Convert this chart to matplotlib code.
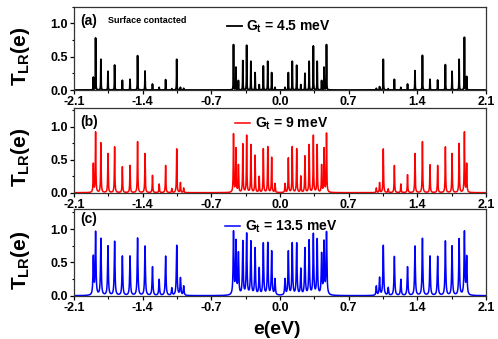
import numpy as np
import matplotlib
matplotlib.use('Agg')
import matplotlib.pyplot as plt
from matplotlib.ticker import MultipleLocator

plt.rcParams['font.family'] = ['Liberation Sans', 'DejaVu Sans']
plt.rcParams['font.weight'] = 'bold'
plt.rcParams['mathtext.fontset'] = 'custom'
plt.rcParams['mathtext.rm'] = 'Liberation Sans:bold'
plt.rcParams['mathtext.it'] = 'Liberation Sans:bold'
plt.rcParams['mathtext.bf'] = 'Liberation Sans:bold'

# resonance energies (eV), same for all couplings
peak_e = [-1.903, -1.880, -1.826, -1.754, -1.686, -1.607, -1.529, -1.452,
          -1.376, -1.300, -1.232, -1.166, -1.103, -1.053, -1.015, -0.982,
          -0.474, -0.449, -0.424, -0.379, -0.340, -0.297, -0.254, -0.212,
          -0.170, -0.125, -0.085, -0.051,
          0.051, 0.085, 0.125, 0.170, 0.212, 0.254, 0.297, 0.340,
          0.379, 0.424, 0.449, 0.474,
          0.982, 1.015, 1.053, 1.103, 1.166, 1.232, 1.300, 1.376,
          1.452, 1.529, 1.607, 1.686, 1.754, 1.826, 1.880, 1.903]

# peak transmission for each coupling strength
t_45 = [0.19, 0.78, 0.46, 0.28, 0.375, 0.145, 0.16, 0.515,
        0.285, 0.09, 0.04, 0.155, 0.02, 0.46, 0.04, 0.025,
        0.68, 0.34, 0.14, 0.44, 0.67, 0.43, 0.26, 0.08,
        0.36, 0.43, 0.26, 0.04,
        0.04, 0.26, 0.43, 0.37, 0.08, 0.25, 0.43, 0.66,
        0.43, 0.14, 0.34, 0.68,
        0.025, 0.05, 0.46, 0.02, 0.16, 0.04, 0.09, 0.29,
        0.52, 0.16, 0.15, 0.38, 0.28, 0.46, 0.79, 0.20]
t_9 = [0.43, 0.91, 0.75, 0.59, 0.69, 0.39, 0.41, 0.77,
       0.59, 0.26, 0.13, 0.41, 0.06, 0.66, 0.15, 0.07,
       0.88, 0.66, 0.41, 0.73, 0.86, 0.72, 0.56, 0.24,
       0.66, 0.69, 0.53, 0.135,
       0.135, 0.52, 0.69, 0.66, 0.245, 0.55, 0.72, 0.86,
       0.72, 0.41, 0.66, 0.89,
       0.07, 0.15, 0.66, 0.055, 0.41, 0.13, 0.27, 0.59,
       0.77, 0.42, 0.41, 0.69, 0.59, 0.74, 0.91, 0.43]
t_135 = [0.57, 0.94, 0.85, 0.74, 0.81, 0.59, 0.59, 0.86,
         0.74, 0.43, 0.24, 0.59, 0.11, 0.75, 0.26, 0.14,
         0.94, 0.79, 0.615, 0.80, 0.915, 0.80, 0.70, 0.40,
         0.775, 0.78, 0.655, 0.24,
         0.24, 0.655, 0.775, 0.775, 0.39, 0.70, 0.815, 0.91,
         0.83, 0.605, 0.78, 0.93,
         0.14, 0.265, 0.75, 0.115, 0.585, 0.24, 0.43, 0.74,
         0.855, 0.59, 0.585, 0.815, 0.74, 0.845, 0.945, 0.565]

gt_labels = ['4.5', '9', '13.5']
widths = [0.0015, 0.003, 0.0045]  # half width of each resonance (eV)
colors = ['k', '#ff0000', '#0000ff']
line_w = [1.3, 1.1, 1.1]
panel_tags = ['(a)', '(b)', '(c)']
xticks = [-2.1, -1.4, -0.7, 0.0, 0.7, 1.4, 2.1]

e = np.union1d(np.linspace(-2.1, 2.1, 21001), peak_e)


def spectrum(heights, g):
    t = np.zeros_like(e)
    for e0, h in zip(peak_e, heights):
        t += h * g**2 / ((e - e0)**2 + g**2)
    return t


fig = plt.figure(figsize=(4.98, 3.39), dpi=100)
boxes = [[0.1486, 0.7345, 0.8273, 0.2457],
         [0.1486, 0.4316, 0.8273, 0.2499],
         [0.1486, 0.1277, 0.8273, 0.2558]]
ytops = [1.25, 1.28, 1.30]
leg_pos = [(0.371, 0.756), (0.391, 0.808), (0.367, 0.792)]
tag_y = [0.83, 0.84, 0.88]
ylab_y = [1 - 56 / 339, 1 - 157 / 339, 1 - 260 / 339]

for i, heights in enumerate([t_45, t_9, t_135]):
    ax = fig.add_axes(boxes[i])
    line, = ax.plot(e, spectrum(heights, widths[i]), color=colors[i],
                    lw=line_w[i])
    ax.set_xlim(-2.1, 2.1)
    ax.set_ylim(0, ytops[i])
    ax.set_xticks(xticks)
    ax.set_xticklabels(['%.1f' % v for v in xticks])
    ax.xaxis.set_minor_locator(MultipleLocator(0.35))
    ax.set_yticks([0.0, 0.5, 1.0])
    ax.set_yticklabels(['0.0', '0.5', '1.0'])
    ax.yaxis.set_minor_locator(MultipleLocator(0.25))
    ax.tick_params(which='major', direction='out', length=3, width=0.9,
                   labelsize=9, pad=1.5)
    ax.tick_params(which='minor', direction='out', length=1.8, width=0.8)
    for s in ax.spines.values():
        s.set_color('#333333')
        s.set_linewidth(0.9)
    ax.text(0.015, tag_y[i], panel_tags[i], transform=ax.transAxes,
            fontsize=10, va='center', ha='left')
    if i == 0:
        ax.text(0.083, 0.84, 'Surface contacted', transform=ax.transAxes,
                fontsize=6.5, va='center', ha='left')
    ax.legend([line], ['G$_{t}$ = %s meV' % gt_labels[i]],
              loc='center left', bbox_to_anchor=leg_pos[i], frameon=False,
              borderpad=0, borderaxespad=0, handlelength=1.1,
              handletextpad=0.3, fontsize=10)
    fig.text(21 / 498, ylab_y[i], 'T$_{LR}$(e)', rotation=90,
             ha='center', va='center', fontsize=15)

fig.text(276.7 / 498, 1 - 329 / 339, 'e(eV)', ha='center', va='center',
         fontsize=14)

fig.savefig('out.png', dpi=100)
